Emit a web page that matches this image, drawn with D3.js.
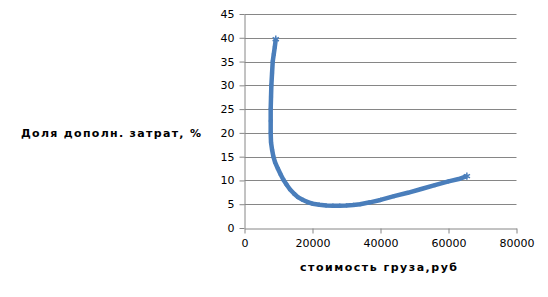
<!DOCTYPE html>
<meta charset="utf-8">
<style>
  html, body { margin: 0; padding: 0; background: #fff; }
  svg { display: block; }
  text { font-family: "DejaVu Sans", sans-serif; fill: #000; }
  .grid line { stroke: #868686; stroke-width: 1px; }
  .axis path, .axis line { stroke: #868686; }
</style>
<svg id="chart" width="548" height="297"></svg>
<script src="https://cdn.jsdelivr.net/npm/d3@7"></script>
<script>

  // стоимость груза, руб
  let cost = [9200, 8900, 8600, 8300, 8100, 7900, 7800, 7700, 7700, 7700,
    7800, 8100, 8500, 9000, 9800, 10600, 11400, 12400, 13400, 14600,
    15700, 17200, 18800, 20100, 22000, 24000, 26000, 28000, 30000, 32000,
    34000, 36900, 40000, 44000, 48000, 52000, 56000, 60000, 63000, 65400]
  // доля дополнительных затрат, %
  let share = [39.7, 38, 36.5, 35, 32.5, 30, 27.5, 25, 22.5, 20,
    18, 16.5, 15, 13.8, 12.5, 11.3, 10.2, 9.1, 8.1, 7.2,
    6.5, 5.9, 5.4, 5.1, 4.9, 4.75, 4.7, 4.7, 4.75, 4.85,
    5.0, 5.4, 5.9, 6.7, 7.4, 8.2, 9.0, 9.8, 10.3, 10.9]

  let xTicks = [0, 20000, 40000, 60000, 80000]
  let yTicks = [0, 5, 10, 15, 20, 25, 30, 35, 40, 45]

  let svg = d3.select("#chart")

  let x = d3.scaleLinear().domain([0, 80000]).range([244.5, 516.5])
  let y = d3.scaleLinear().domain([0, 45]).range([228, 14])

  // gridlines
  svg.append("g").attr("class", "grid")
    .selectAll("line").data(yTicks.slice(1)).join("line")
    .attr("x1", x(0)).attr("x2", x(80000))
    .attr("y1", d => Math.round(y(d)) + 0.5).attr("y2", d => Math.round(y(d)) + 0.5)

  let xAxis = svg.append("g").attr("class", "axis")
    .attr("transform", "translate(0," + (y(0) + 0.5) + ")")
    .call(d3.axisBottom(x).tickValues(xTicks).tickFormat(d3.format("d"))
      .tickSize(5).tickPadding(6).tickSizeOuter(0))
  xAxis.selectAll("text").attr("font-size", "11px").attr("fill", "#000")
    .attr("font-family", "DejaVu Sans")

  let yAxis = svg.append("g").attr("class", "axis")
    .attr("transform", "translate(" + x(0) + ",0)")
    .call(d3.axisLeft(y).tickValues(yTicks).tickSize(5).tickPadding(5).tickSizeOuter(0))
  yAxis.selectAll("text").attr("font-size", "11px").attr("fill", "#000")
    .attr("font-family", "DejaVu Sans")

  // series
  let pts = cost.map((c, i) => [c, share[i]])
  let line = d3.line().x(d => x(d[0])).y(d => y(d[1]))

  svg.append("path").datum(pts)
    .attr("d", line)
    .attr("fill", "none")
    .attr("stroke", "#4a7ebb")
    .attr("stroke-width", 4.5)
    .attr("stroke-linejoin", "round")

  // markers: only the ends stand out, the rest sit inside the thick line
  let star = d3.symbol().type(d3.symbolAsterisk)
  svg.append("g").selectAll("path").data(pts).join("path")
    .attr("transform", d => "translate(" + x(d[0]) + "," + y(d[1]) + ")")
    .attr("d", (d, i) => star.size(i == 0 || i == pts.length - 1 ? 36 : 12)())
    .attr("fill", "none")
    .attr("stroke", "#4a7ebb")
    .attr("stroke-width", 1.5)

  // axis titles
  svg.append("text")
    .attr("x", 21).attr("y", 137)
    .attr("font-size", "11px").attr("font-weight", "bold")
    .attr("textLength", 180).attr("lengthAdjust", "spacing")
    .text("Доля дополн. затрат, %")

  svg.append("text")
    .attr("x", 300).attr("y", 271)
    .attr("font-size", "11px").attr("font-weight", "bold")
    .attr("textLength", 157).attr("lengthAdjust", "spacing")
    .text("стоимость груза,руб")

</script>
